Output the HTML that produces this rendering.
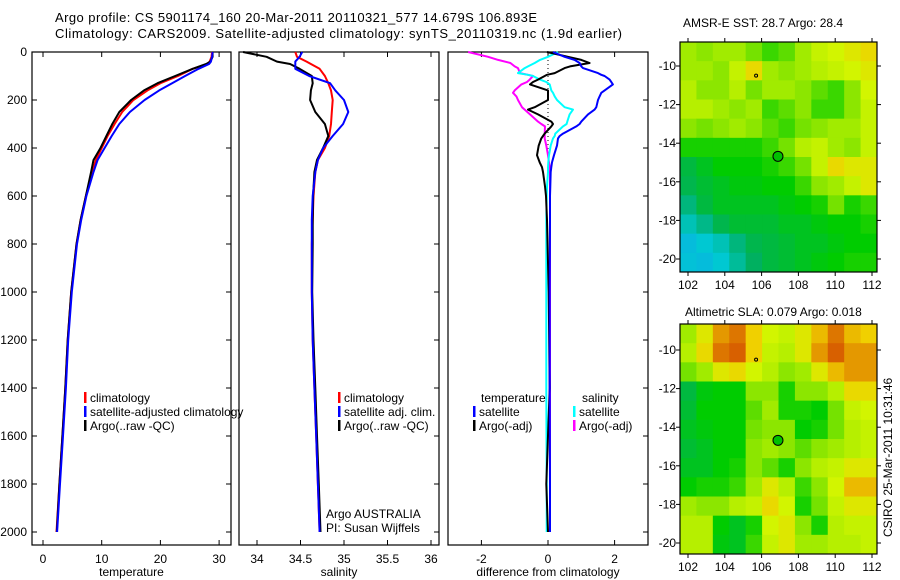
<!DOCTYPE html>
<html><head><meta charset="utf-8"><style>
body{margin:0;background:#fff;}
svg{display:block;font-family:"Liberation Sans",sans-serif;}
text{fill:#000;}
</style></head><body>
<svg id="fig" width="900" height="580" viewBox="0 0 900 580">
<text x="55" y="22" font-size="13" textLength="482">Argo profile: CS 5901174_160 20-Mar-2011 20110321_577 14.679S 106.893E</text>
<text x="55" y="38" font-size="13" textLength="567">Climatology: CARS2009. Satellite-adjusted climatology: synTS_20110319.nc (1.9d earlier)</text>
<text x="683" y="27" font-size="12">AMSR-E SST: 28.7 Argo: 28.4</text>
<text x="685" y="316" font-size="12">Altimetric SLA: 0.079 Argo: 0.018</text>
<text x="0" y="0" font-size="12" transform="translate(892,537) rotate(-90)">CSIRO 25-Mar-2011 10:31:46</text>
</svg>
<script>
// ---- data ----
const depths = [0,20,40,50,70,100,130,160,200,250,300,350,400,450,500,600,700,800,1000,1200,1400,1600,1800,2000];
const tempClim = [28.8,28.7,28.4,28.0,25.5,23.0,20.0,17.8,15.4,13.5,12.2,11,10,9,8.4,7.3,6.4,5.7,4.8,4.2,3.8,3.3,2.8,2.3];
const tempSat  = [28.9,28.8,28.6,28.3,26.5,24.2,22,19.8,17.3,14.8,13,11.7,10.5,9.3,8.6,7.4,6.5,5.8,4.9,4.3,3.9,3.4,2.9,2.4];
const tempArgo = [28.9,28.9,28.5,27.8,25.5,22.5,19.5,17.2,15,13,11.8,10.8,9.8,8.6,8.2,7.3,6.4,5.7,4.8,4.2,3.8,3.3,2.8,2.35];
const salClim = [34.44,34.46,34.57,34.62,34.72,34.78,34.82,34.85,34.87,34.86,34.85,34.83,34.78,34.7,34.67,34.65,34.64,34.63,34.63,34.64,34.66,34.68,34.7,34.72];
const salSat  = [34.52,34.49,34.44,34.44,34.44,34.6,34.84,34.9,35.0,35.05,34.99,34.87,34.76,34.7,34.67,34.64,34.63,34.63,34.63,34.64,34.66,34.68,34.7,34.72];
const salArgo = [33.84,34.11,34.23,34.38,34.49,34.63,34.64,34.62,34.61,34.67,34.78,34.82,34.76,34.69,34.66,34.645,34.64,34.64,34.635,34.65,34.67,34.69,34.71,34.73];
const diffDepths = [0,20,33,46,60,67,88,95,100,115,125,135,160,170,185,200,230,240,260,290,300,310,340,350,360,390,430,460,480,500,560,600,700,1000,1400,1800,2000];
const dTempSat  = [0.15,0.5,0.8,0.95,1.0,1.05,1.5,1.6,1.7,1.85,1.9,1.95,1.7,1.6,1.55,1.5,1.45,1.4,1.2,1.0,0.95,0.85,0.45,0.35,0.3,0.27,0.18,0.12,0.1,0.08,0.07,0.06,0.06,0.05,0.05,0.06,0.06];
const dTempArgo = [-0.03,0.6,1.0,1.25,0.66,0.5,0.2,-0.03,-0.1,-0.3,-0.45,-0.54,0,0,0,0,-0.4,-0.6,-0.3,0.1,0.15,0.1,-0.1,-0.15,-0.2,-0.28,-0.33,-0.25,-0.18,-0.15,-0.09,-0.06,-0.03,0.02,0.05,-0.05,0.0];
const dSalSat   = [0.3,0.0,-0.24,-0.4,-0.6,-0.7,-0.9,-0.6,-0.45,-0.24,-0.05,0.05,0.1,0.15,0.2,0.27,0.5,0.75,0.65,0.58,0.56,0.45,0.22,0.2,0.15,0.08,0.03,0.01,0,0,-0.03,-0.04,-0.05,-0.05,-0.05,-0.04,-0.04];
const dSalArgo  = [-2.4,-1.8,-1.5,-1.13,-1.0,-0.9,-0.84,-0.6,-0.45,-0.55,-0.63,-0.8,-1.0,-1.05,-0.95,-0.9,-0.78,-0.7,-0.54,-0.3,-0.2,-0.09,-0.1,-0.1,-0.1,-0.05,0.0,0.03,0.05,0.06,0.06,0.06,0.06,0.06,0.06,0.06,0.06];
const tempTicks = [0,10,20,30];
const salTicks = [34,34.5,35,35.5,36];
const diffTicks = [-2,0,2];
const depthTicks = [0,200,400,600,800,1000,1200,1400,1600,1800,2000];
const lonTicks = [102,104,106,108,110,112];
const latTicks = [-10,-12,-14,-16,-18,-20];
const sstGrid = [
[0.75,0.72,0.75,0.75,0.7,0.65,0.68,0.75,0.8,0.82,0.85,0.88],
[0.75,0.75,0.72,0.8,0.88,0.75,0.72,0.75,0.78,0.8,0.82,0.85],
[0.78,0.72,0.72,0.78,0.7,0.75,0.75,0.72,0.68,0.65,0.72,0.82],
[0.78,0.78,0.75,0.72,0.75,0.65,0.68,0.72,0.65,0.65,0.72,0.8],
[0.72,0.7,0.72,0.75,0.72,0.68,0.65,0.7,0.72,0.75,0.75,0.8],
[0.62,0.62,0.62,0.62,0.62,0.65,0.7,0.78,0.8,0.75,0.72,0.8],
[0.5,0.55,0.6,0.6,0.6,0.62,0.65,0.7,0.8,0.88,0.85,0.85],
[0.48,0.52,0.55,0.58,0.58,0.6,0.6,0.65,0.72,0.75,0.8,0.85],
[0.4,0.5,0.55,0.55,0.55,0.55,0.58,0.6,0.62,0.7,0.62,0.65],
[0.3,0.38,0.48,0.52,0.52,0.52,0.55,0.55,0.58,0.6,0.6,0.62],
[0.2,0.25,0.3,0.4,0.48,0.5,0.52,0.55,0.55,0.58,0.6,0.6],
[0.22,0.2,0.25,0.35,0.45,0.5,0.52,0.55,0.58,0.6,0.62,0.62]];
const slaGrid = [
[0.75,0.85,0.95,0.98,0.9,0.82,0.8,0.85,0.92,0.98,0.92,0.9],
[0.78,0.88,0.98,1.0,0.9,0.8,0.78,0.85,0.95,1.0,0.95,0.95],
[0.7,0.75,0.85,0.88,0.82,0.78,0.72,0.75,0.85,0.92,0.95,0.95],
[0.5,0.58,0.6,0.6,0.72,0.72,0.62,0.72,0.72,0.78,0.88,0.88],
[0.52,0.6,0.6,0.6,0.68,0.75,0.62,0.62,0.6,0.7,0.8,0.82],
[0.55,0.58,0.6,0.6,0.7,0.72,0.72,0.6,0.62,0.7,0.78,0.8],
[0.52,0.55,0.6,0.6,0.72,0.75,0.72,0.68,0.72,0.75,0.78,0.8],
[0.55,0.55,0.6,0.62,0.72,0.68,0.62,0.72,0.78,0.8,0.85,0.85],
[0.6,0.62,0.62,0.65,0.75,0.85,0.78,0.65,0.72,0.82,0.92,0.92],
[0.75,0.72,0.72,0.78,0.8,0.88,0.82,0.62,0.7,0.8,0.85,0.85],
[0.78,0.78,0.6,0.55,0.62,0.82,0.85,0.72,0.62,0.78,0.8,0.8],
[0.78,0.78,0.58,0.55,0.65,0.8,0.85,0.75,0.75,0.78,0.78,0.8]];

// ---- drawing ----
const NS='http://www.w3.org/2000/svg';
const svg=document.getElementById('fig');
function mk(tag,attrs,parent){const e=document.createElementNS(NS,tag);for(const k in attrs)e.setAttribute(k,attrs[k]);(parent||svg).appendChild(e);return e;}
function txt(x,y,s,anchor,size,parent){const t=mk('text',{x:x,y:y,'font-size':size||12,'text-anchor':anchor||'start'},parent);t.textContent=s;return t;}
const yD=d=>52+d*0.24;
const panels=[
 {x0:32,x1:231,sx:v=>43+v*5.87,ticks:tempTicks,label:'temperature',name:'temperature-panel'},
 {x0:239,x1:439,sx:v=>257+(v-34)*87,ticks:salTicks,label:'salinity',name:'salinity-panel'},
 {x0:448,x1:648,sx:v=>548+v*33.3,ticks:diffTicks,label:'difference from climatology',name:'difference-panel'}];
panels.forEach((p,i)=>{
 const g=mk('g',{});
 
 
 const r=mk('rect',{x:p.x0,y:52,width:p.x1-p.x0,height:493,fill:'none',stroke:'#000','stroke-width':1.2},g);
 
 
 p.ticks.forEach(t=>{const x=p.sx(t);
  mk('line',{x1:x,x2:x,y1:545,y2:540,stroke:'#000'},g);mk('line',{x1:x,x2:x,y1:52,y2:57,stroke:'#000'},g);
  const l=txt(x,563,String(t),'middle',12,g);
  
  });
 depthTicks.forEach(d=>{const y=yD(d);
  mk('line',{x1:p.x1,x2:p.x1-5,y1:y,y2:y,stroke:'#000'},g);
  if(i==0){mk('line',{x1:p.x0,x2:p.x0+5,y1:y,y2:y,stroke:'#000'},g);
   const l=txt(27,y+4,String(d),'end',12,g);
   
   }});
 const xl=txt((p.x0+p.x1)/2,576,p.label,'middle',12,g);
 
 
});
function line(p,xs,ds,col,w,name){
 const pts=xs.map((v,k)=>p.sx(v).toFixed(1)+','+yD(ds[k]).toFixed(1)).join(' ');
 const e=mk('polyline',{points:pts,fill:'none',stroke:col,'stroke-width':w,'stroke-linejoin':'round'});
 
 
}
line(panels[0],tempClim,depths,'#f00',2,'temp-climatology-line');
line(panels[0],tempArgo,depths,'#000',2,'temp-argo-line');
line(panels[0],tempSat,depths,'#00f',2,'temp-satellite-line');
line(panels[1],salClim,depths,'#f00',2,'sal-climatology-line');
line(panels[1],salArgo,depths,'#000',2,'sal-argo-line');
line(panels[1],salSat,depths,'#00f',2,'sal-satellite-line');
const z=mk('line',{x1:548,x2:548,y1:52,y2:160,stroke:'#000','stroke-dasharray':'1,3'});


line(panels[2],dSalArgo,diffDepths,'#f0f',2,'diff-sal-argo-line');
line(panels[2],dSalSat,diffDepths,'#0ff',2,'diff-sal-satellite-line');
line(panels[2],dTempArgo,diffDepths,'#000',2,'diff-temp-argo-line');
line(panels[2],dTempSat,diffDepths,'#00f',2,'diff-temp-satellite-line');
// legends
function legend(x,y,col,label){const g=mk('g',{});
 
 
 mk('rect',{x:x,y:y-10,width:2.5,height:11,fill:col},g);txt(x+6,y,label,'start',12,g);}
legend(84,402,'#f00','climatology');legend(84,416,'#00f','satellite-adjusted climatology');legend(84,430,'#000','Argo(..raw -QC)');
legend(338,402,'#f00','climatology');legend(338,416,'#00f','satellite adj. clim.');legend(338,430,'#000','Argo(..raw -QC)');
txt(481,402,'temperature');legend(473,416,'#00f','satellite');legend(473,430,'#000','Argo(-adj)');
txt(582,402,'salinity');legend(573,416,'#0ff','satellite');legend(573,430,'#f0f','Argo(-adj)');
const a1=txt(326,518,'Argo AUSTRALIA');
const a2=txt(326,532,'PI: Susan Wijffels');
// maps
const stops=[[0,[26,140,255]],[0.25,[0,200,210]],[0.45,[0,176,96]],[0.6,[0,204,0]],[0.72,[140,230,0]],[0.82,[210,245,0]],[0.9,[240,208,0]],[1,[216,96,0]]];
function cmap(v){for(let i=1;i<stops.length;i++){if(v<=stops[i][0]){const a=stops[i-1],b=stops[i],t=(v-a[0])/(b[0]-a[0]);
 return 'rgb('+a[1].map((c,k)=>Math.round(c+(b[1][k]-c)*t)).join(',')+')';}}return 'rgb(216,96,0)';}
function map(grid,top,lat10,name){
 const x0=680,x1=877,bottom=top+230;
 const sx=lon=>688+(lon-102)*18.4, sy=lat=>lat10+(-10-lat)*19.3;
 const g=mk('g',{});
 
 
 const rows=grid.length,cols=grid[0].length,cw=(x1-x0)/cols,ch=(bottom-top)/rows;
 grid.forEach((row,r)=>row.forEach((v,c)=>{const e=mk('rect',{x:x0+c*cw,y:top+r*ch,width:cw+0.5,height:ch+0.5,fill:cmap(v)},g);
  
  }));
 mk('rect',{x:x0,y:top,width:x1-x0,height:bottom-top,fill:'none',stroke:'#000','stroke-width':1.2},g);
 lonTicks.forEach(l=>{const x=sx(l);mk('line',{x1:x,x2:x,y1:bottom,y2:bottom+4,stroke:'#000'},g);mk('line',{x1:x,x2:x,y1:top,y2:top-4,stroke:'#000'},g);txt(x,bottom+17,String(l),'middle',12,g);});
 latTicks.forEach(l=>{const y=sy(l);mk('line',{x1:x0,x2:x0-4,y1:y,y2:y,stroke:'#000'},g);mk('line',{x1:x1,x2:x1+4,y1:y,y2:y,stroke:'#000'},g);txt(x0-4,y+4,String(l),'end',12,g);});
 mk('circle',{cx:sx(106.89),cy:sy(-14.68),r:5,fill:'#00c000',stroke:'#000'},g);
 mk('circle',{cx:sx(105.7),cy:sy(-10.5),r:1.5,fill:'none',stroke:'#000'},g);
}
map(sstGrid,42,66,'sst-map');
map(slaGrid,324,350,'sla-map');
</script>
</body></html>
